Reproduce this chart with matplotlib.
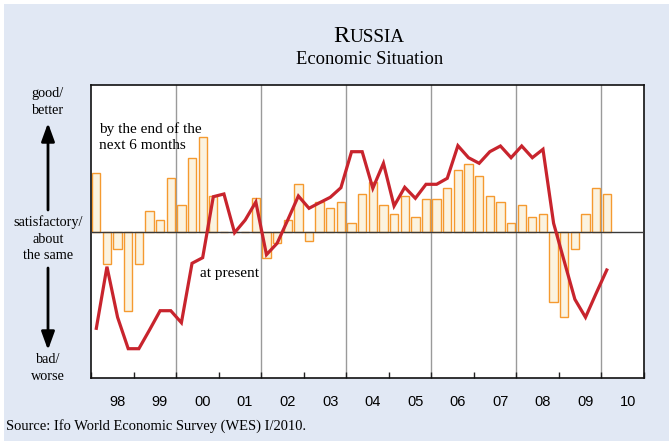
import numpy as np
import matplotlib
matplotlib.use("Agg")
import matplotlib.pyplot as plt
from matplotlib.patches import Rectangle, FancyArrowPatch
from matplotlib.offsetbox import TextArea, HPacker, AnnotationBbox

# ---- data (quarterly, 1998Q1 .. 2010Q1) ----
start_year = 1998
expectations = [59.3, -31.7, -17.3, -79.3,          # 1998
                -31.7, 21.3, 11.7, 53.7,            # 1999
                27.0, 74.0, 94.7, 35.7,             # 2000
                0.0, 0.0, 0.0, 33.7,                # 2001
                -26.0, -11.3, 11.7, 47.7,           # 2002
                -8.7, 29.7, 24.0, 29.7,             # 2003
                9.3, 38.3, 50.3, 27.3,              # 2004
                18.0, 35.7, 15.3, 33.3,             # 2005
                33.3, 44.3, 62.3, 68.0,             # 2006
                56.3, 35.7, 29.7, 9.3,              # 2007
                27.3, 15.3, 17.7, -70.0,            # 2008
                -85.3, -17.3, 17.7, 44.3,           # 2009
                38.3]                               # 2010
present = [-96.3, -34.7, -85.3, -116.7,
           -116.7, -98.0, -78.7, -78.7,
           -90.7, -31.3, -25.7, 35.3,
           38.0, -0.7, 12.0, 30.0,
           -22.7, -11.3, 12.0, 36.0,
           23.7, 29.3, 34.7, 44.3,
           80.3, 80.3, 43.7, 68.7,
           26.0, 44.7, 33.7, 47.7,
           47.7, 53.7, 86.3, 74.3,
           68.7, 80.3, 86.0, 74.3,
           86.0, 74.3, 82.7, 8.7,
           -29.3, -67.3, -85.3, -61.3,
           -38.0]
year_labels = ["98", "99", "00", "01", "02", "03", "04", "05", "06", "07", "08", "09", "10"]

W, H = 669, 441
BG = "#E1E8F4"
SERIF = ["Liberation Serif", "DejaVu Serif"]
SANS = ["Liberation Sans", "DejaVu Sans"]

def fx(px):
    return px / W

def fy(py):
    return 1 - py / H

fig = plt.figure(figsize=(W / 100, H / 100), dpi=100, facecolor="white")
fig.add_artist(Rectangle((fx(4), 0), 1 - fx(4), fy(4), transform=fig.transFigure,
                         facecolor=BG, edgecolor="none", zorder=-10))

ax = fig.add_axes([fx(91), fy(378), fx(644) - fx(91), fy(85) - fy(378)])
ax.set_facecolor("white")

n = len(expectations)
xq = start_year + (np.arange(n) + 0.5) / 4.0

# vertical separators every two years
for yr in range(2000, 2011, 2):
    ax.axvline(yr, color="#9a9a9a", lw=1.0, zorder=1)

ax.bar(xq, expectations, width=0.195, color="#FBF3E0", edgecolor="#F59A30",
       linewidth=1.0, zorder=2)
ax.axhline(0, color="#3a3a3a", lw=1.0, zorder=3)
ax.plot(xq[:len(present)], present, color="#C8242D", lw=2.3, zorder=4,
        solid_joinstyle="miter")

ax.set_xlim(1998, 2011)
ax.set_ylim(-146, 147)
ax.set_yticks([])

ax.set_xticks(np.arange(1998, 2012))
ax.set_xticklabels([])
ax.tick_params(axis="x", which="major", direction="in", length=4, width=1, color="#222")
ax.set_xticks(np.arange(1998, 2011) + 0.62, minor=True)
ax.set_xticklabels(year_labels, minor=True, family=SANS, fontsize=10.5)
ax.tick_params(axis="x", which="minor", length=0, pad=12)

for s in ax.spines.values():
    s.set_color("#111")
    s.set_linewidth(1.2)

# in-plot annotations
fig.text(fx(99), fy(137), "by the end of the\nnext 6 months",
         family=SERIF, fontsize=11, va="center", ha="left", linespacing=1.35, zorder=5)
fig.text(fx(200), fy(273), "at present",
         family=SERIF, fontsize=11, va="center", ha="left", zorder=5)

# left scale labels
cx = fx(48)
fig.text(cx, fy(102), "good/\nbetter", family=SERIF, fontsize=10.3, ha="center", va="center",
         linespacing=1.4)
fig.text(cx, fy(239), "satisfactory/\nabout\nthe same", family=SERIF, fontsize=10.3,
         ha="center", va="center", linespacing=1.35)
fig.text(cx, fy(368), "bad/\nworse", family=SERIF, fontsize=10.3, ha="center", va="center",
         linespacing=1.4)
arrow_kw = dict(arrowstyle="-|>,head_length=0.55,head_width=0.2", color="black", lw=2.0,
                shrinkA=0, shrinkB=0, mutation_scale=20)
fig.add_artist(FancyArrowPatch((cx, fy(210)), (cx, fy(123)),
               transform=fig.transFigure, **arrow_kw))
fig.add_artist(FancyArrowPatch((cx, fy(268)), (cx, fy(350)),
               transform=fig.transFigure, **arrow_kw))

# title with small caps
t1 = TextArea("R", textprops=dict(family=SERIF, fontsize=17.5))
t2 = TextArea("USSIA", textprops=dict(family=SERIF, fontsize=13.8))
box = HPacker(children=[t1, t2], align="baseline", pad=0, sep=0)
ab = AnnotationBbox(box, (fx(369), fy(37)), xycoords="figure fraction", frameon=False,
                    box_alignment=(0.5, 0.5), pad=0)
fig.add_artist(ab)
fig.text(fx(370), fy(59), "Economic Situation", family=SERIF, fontsize=13.3,
         ha="center", va="center")

fig.text(fx(6), fy(426), "Source: Ifo World Economic Survey (WES) I/2010.", family=SERIF,
         fontsize=10.45, ha="left", va="center")

fig.savefig("out.png", dpi=100, facecolor=fig.get_facecolor())
